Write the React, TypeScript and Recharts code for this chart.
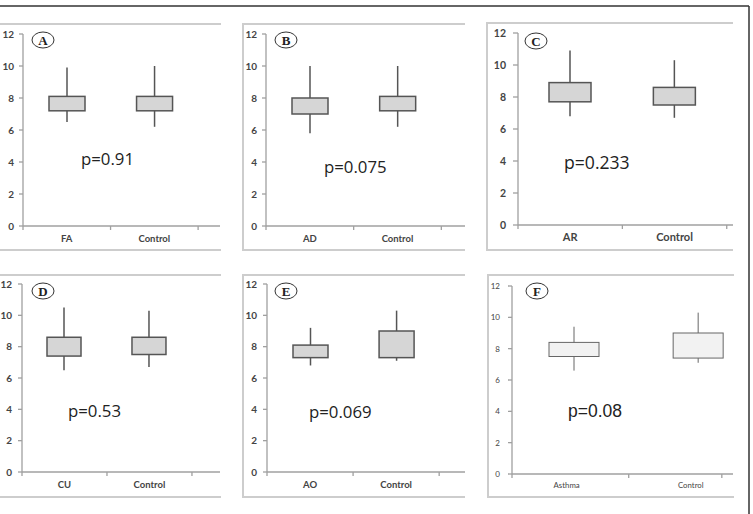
import { Bar, ComposedChart, XAxis, YAxis } from "recharts";

// Six two-group box plots (patient group vs. control), each with its p-value.
const panelTags = ["A", "B", "C", "D", "E", "F"];
const groupNames = [
  ["FA", "Control"],
  ["AD", "Control"],
  ["AR", "Control"],
  ["CU", "Control"],
  ["AO", "Control"],
  ["Asthma", "Control"],
];
const whiskerMin = [
  [6.5, 6.2],
  [5.8, 6.2],
  [6.8, 6.7],
  [6.5, 6.7],
  [6.8, 7.1],
  [6.6, 7.1],
];
const boxLow = [
  [7.2, 7.2],
  [7.0, 7.2],
  [7.7, 7.5],
  [7.4, 7.5],
  [7.3, 7.3],
  [7.5, 7.4],
];
const boxHigh = [
  [8.1, 8.1],
  [8.0, 8.1],
  [8.9, 8.6],
  [8.6, 8.6],
  [8.1, 9.0],
  [8.4, 9.0],
];
const whiskerMax = [
  [9.9, 10.0],
  [10.0, 10.0],
  [10.9, 10.3],
  [10.5, 10.3],
  [9.2, 10.3],
  [9.4, 10.3],
];
const pValues = ["p=0.91", "p=0.075", "p=0.233", "p=0.53", "p=0.069", "p=0.08"];
const yTicks = [0, 2, 4, 6, 8, 10, 12];

const calibriLike = "Lato, 'Open Sans', sans-serif";

type Layout = {
  left: number;
  top: number;
  width: number;
  height: number;
  leftBorder: boolean;
  plotLeft: number;
  plotRight: number;
  plotTop: number;
  plotBottom: number;
  xMax: number;
  marks: number[];
  labelAt: number[];
  centers: number[];
  barSize: number;
  tickFont: number;
  catFont: number;
  bold: boolean;
  yTickSize: number;
  yTickMargin: number;
  labelDy: number;
  boxFill: string;
  boxStroke: string;
  lineWidth: number;
  pX: number;
  pY: number;
  pFont: string;
  pSize: number;
  tagX: number;
  tagY: number;
};

const base = {
  centers: [0.5, 1.5],
  labelAt: [0.5, 1.5],
  marks: [0, 1, 2],
  tickFont: 10,
  catFont: 9.5,
  bold: true,
  yTickSize: 4,
  yTickMargin: 5,
  labelDy: 16,
  boxFill: "#d6d6d6",
  boxStroke: "#555",
  lineWidth: 1.5,
  pFont: "'Open Sans', sans-serif",
  pSize: 16.8,
};

const layouts: Layout[] = [
  { ...base, left: 0, top: 23, width: 221, height: 228, leftBorder: false, plotLeft: 23, plotRight: 220, plotTop: 34, plotBottom: 226, xMax: 2.25, barSize: 36, pX: 81, pY: 165, tagX: 43, tagY: 40 },
  { ...base, left: 242, top: 23, width: 223, height: 228, leftBorder: true, plotLeft: 266, plotRight: 465, plotTop: 34, plotBottom: 226, xMax: 2.27, barSize: 36, pX: 324, pY: 173, tagX: 286, tagY: 40 },
  { ...base, left: 486, top: 22, width: 247, height: 229, leftBorder: true, plotLeft: 518, plotRight: 733, plotTop: 33, plotBottom: 225, xMax: 2.06, barSize: 42, tickFont: 10.5, catFont: 11, yTickSize: 5, yTickMargin: 7, pX: 564, pY: 169, pSize: 17.6, tagX: 536, tagY: 41 },
  { ...base, left: 0, top: 274, width: 221, height: 224, leftBorder: false, plotLeft: 22, plotRight: 220, plotTop: 284, plotBottom: 472, xMax: 2.33, barSize: 34, yTickMargin: 6, pX: 68, pY: 417, tagX: 43, tagY: 291 },
  { ...base, left: 242, top: 274, width: 223, height: 224, leftBorder: true, plotLeft: 267, plotRight: 465, plotTop: 284, plotBottom: 472, xMax: 2.3, barSize: 35, yTickMargin: 6, pX: 309, pY: 418, tagX: 286, tagY: 291 },
  { ...base, left: 487, top: 274, width: 247, height: 224, leftBorder: true, plotLeft: 512, plotRight: 733, plotTop: 286, plotBottom: 474, xMax: 1.78, marks: [0, 0.94, 1.69], labelAt: [0.44, 1.44], barSize: 50, tickFont: 8, catFont: 7.8, bold: false, yTickSize: 4, yTickMargin: 8, labelDy: 14, boxFill: "#f2f2f2", boxStroke: "#666", lineWidth: 1, pX: 568, pY: 417, pFont: "'Liberation Sans', Arial, sans-serif", pSize: 17.5, tagX: 537, tagY: 291 },
];

const axisGray = "#a0a0a0";
const labelGray = "#444";
const frameGray = "#cdcdcd";

function Panel({ index }: { index: number }) {
  const lay = layouts[index];
  const names = groupNames[index];
  const rows = [0, 1].map((j) => ({
    x: lay.centers[j],
    floor: whiskerMin[index][j],
    lower: boxLow[index][j] - whiskerMin[index][j],
    box: boxHigh[index][j] - boxLow[index][j],
    upper: whiskerMax[index][j] - boxHigh[index][j],
  }));

  const whisker = (p: any) => (
    <line
      x1={p.x + p.width / 2}
      x2={p.x + p.width / 2}
      y1={p.y}
      y2={p.y + p.height}
      stroke={lay.boxStroke}
      strokeWidth={lay.lineWidth}
    />
  );
  const box = (p: any) => (
    <rect
      x={p.x}
      y={p.y}
      width={p.width}
      height={p.height}
      fill={lay.boxFill}
      stroke={lay.boxStroke}
      strokeWidth={lay.lineWidth}
    />
  );

  // category names sit mid-band, plain tick marks sit on the band edges
  const xTick = (p: any) => {
    const v = p.payload.value;
    const k = lay.labelAt.indexOf(v);
    if (k >= 0) {
      return (
        <text
          x={p.x}
          y={p.y + lay.labelDy}
          textAnchor="middle"
          fill={labelGray}
          fontSize={lay.catFont}
          fontFamily={calibriLike}
          fontWeight={lay.bold ? 700 : 400}
        >
          {names[k]}
        </text>
      );
    }
    return <line x1={p.x} x2={p.x} y1={p.y} y2={p.y + 4} stroke={axisGray} strokeWidth={1.3} />;
  };

  return (
    <>
      <div
        style={{
          position: "absolute",
          left: lay.left,
          top: lay.top,
          width: lay.width,
          height: lay.height,
          boxSizing: "border-box",
          borderTop: `2px solid ${frameGray}`,
          borderBottom: `2px solid ${frameGray}`,
          borderLeft: lay.leftBorder ? `2px solid ${frameGray}` : "none",
        }}
      />
      <div style={{ position: "absolute", left: lay.left, top: lay.top }}>
        <ComposedChart
          width={lay.width}
          height={lay.height}
          data={rows}
          margin={{
            top: lay.plotTop - lay.top,
            right: lay.left + lay.width - lay.plotRight,
            bottom: 0,
            left: 0,
          }}
        >
          <XAxis
            type="number"
            dataKey="x"
            domain={[0, lay.xMax]}
            ticks={[...lay.marks, ...lay.labelAt].sort((a, b) => a - b)}
            interval={0}
            tick={xTick}
            tickLine={false}
            tickSize={0}
            tickMargin={0}
            axisLine={{ stroke: axisGray, strokeWidth: 1.3 }}
            height={lay.top + lay.height - lay.plotBottom}
          />
          <YAxis
            type="number"
            domain={[0, 12]}
            ticks={yTicks}
            interval={0}
            width={lay.plotLeft - lay.left}
            tick={{
              fill: labelGray,
              fontSize: lay.tickFont,
              fontFamily: calibriLike,
              fontWeight: lay.bold ? 700 : 400,
            }}
            tickSize={lay.yTickSize}
            tickMargin={lay.yTickMargin}
            tickLine={{ stroke: axisGray, strokeWidth: 1.3 }}
            axisLine={{ stroke: axisGray, strokeWidth: 1.3 }}
          />
          {/* stack order: invisible floor, lower whisker, box, upper whisker */}
          <Bar dataKey="floor" stackId="s" barSize={lay.barSize} fill="none" isAnimationActive={false} />
          <Bar dataKey="lower" stackId="s" barSize={lay.barSize} shape={whisker} isAnimationActive={false} />
          <Bar dataKey="box" stackId="s" barSize={lay.barSize} shape={box} isAnimationActive={false} />
          <Bar dataKey="upper" stackId="s" barSize={lay.barSize} shape={whisker} isAnimationActive={false} />
        </ComposedChart>
      </div>
    </>
  );
}

export default function App() {
  return (
    <div
      style={{
        position: "absolute",
        left: 0,
        top: 0,
        width: 753,
        height: 514,
        background: "#fff",
        overflow: "hidden",
      }}
    >
      {layouts.map((_, i) => (
        <Panel key={panelTags[i]} index={i} />
      ))}
      <svg width={753} height={514} style={{ position: "absolute", left: 0, top: 0, pointerEvents: "none" }}>
        <line x1={0} x2={749} y1={6} y2={6} stroke="#333" strokeWidth={1.5} />
        <line x1={749} x2={749} y1={6} y2={514} stroke="#333" strokeWidth={1.5} />
        {layouts.map((lay, i) => (
          <g key={panelTags[i]}>
            <ellipse cx={lay.tagX} cy={lay.tagY} rx={11} ry={8} fill="#fff" stroke="#333" strokeWidth={1} />
            <text
              x={lay.tagX}
              y={lay.tagY + 4.5}
              textAnchor="middle"
              fontFamily="'Liberation Serif', 'DejaVu Serif', serif"
              fontWeight={700}
              fontSize={13}
              fill="#222"
            >
              {panelTags[i]}
            </text>
            <text x={lay.pX} y={lay.pY} fontFamily={lay.pFont} fontSize={lay.pSize} fill="#222">
              {pValues[i]}
            </text>
          </g>
        ))}
      </svg>
    </div>
  );
}
